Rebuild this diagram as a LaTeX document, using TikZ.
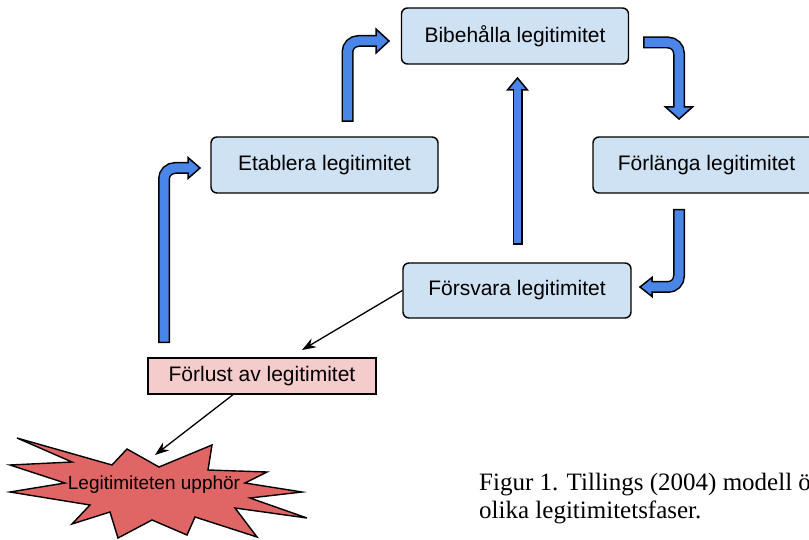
\documentclass[tikz,border=0pt]{standalone}
\usepackage{fontspec}
\setmainfont{Liberation Serif}
\newfontfamily\sansf{Liberation Sans}
\usetikzlibrary{arrows.meta,calc}
\definecolor{boxblue}{HTML}{CFE2F3}
\definecolor{lostpink}{HTML}{F4CCCC}
\definecolor{burstred}{HTML}{E06666}
\definecolor{arrowblue}{HTML}{4A86E8}
\begin{document}
\begin{tikzpicture}[x=1pt,y=-1pt,
  phase/.style={draw=black, line width=1.4pt, fill=boxblue, rounded corners=6pt,
    minimum height=56pt, minimum width=227pt, inner sep=0pt,
    font=\sansf\fontsize{21}{25}\selectfont},
  lossbox/.style={draw=black, line width=1.4pt, fill=lostpink,
    minimum height=36pt, minimum width=228pt, inner sep=0pt,
    font=\sansf\fontsize{21}{25}\selectfont},
  barout/.style={draw=black, line width=12pt, rounded corners=11pt},
  barin/.style={draw=arrowblue, line width=9pt, rounded corners=11pt},
  barouts/.style={draw=black, line width=10pt},
  barins/.style={draw=arrowblue, line width=7pt},
  barhead/.style={fill=arrowblue, draw=black, line width=1.5pt, line join=miter},
  thinarrow/.style={draw=black, line width=1.3pt, -{Stealth[length=14pt,width=10pt]}},
  captext/.style={anchor=base west, inner sep=0pt, font=\fontsize{25}{25}\selectfont}
]
\useasboundingbox (0,0) rectangle (809,540);

% boxes
\node[phase] (bib) at (515,36) {Bibehålla legitimitet};
\node[phase] (etab) at (324.5,165) {Etablera legitimitet};
\node[phase] (forl) at (706.5,165) {Förlänga legitimitet};
\node[phase, minimum height=55pt, minimum width=228pt] (forsv) at (517,290.5) {Försvara legitimitet};
\node[lossbox] (lost) at (262,376) {Förlust av legitimitet};

% starburst
\draw[fill=burstred, draw=black, line width=1.4pt, line join=miter]
  (17,438) -- (112,465) -- (127,449) -- (159,467) -- (212,445) -- (208,470)
  -- (267,472) -- (245,483) -- (302,492) -- (250,498) -- (307,518) -- (235,508)
  -- (257,537) -- (195,517) -- (187,535) -- (152,520) -- (118,538) -- (110,512)
  -- (72,524) -- (90,505) -- (10,492) -- (65,483) -- (10,465) -- (72,462) -- cycle;
\node[inner sep=0pt, font=\sansf\fontsize{19}{22}\selectfont] (burst) at (154,485) {Legitimiteten upphör};

% block arrow A: lost -> etab
\coordinate (a1) at (164,343); \coordinate (a2) at (164,168);
\coordinate (a3) at (188,168); \coordinate (a4) at (200,168);
\draw[barout] (a1) -- (a2) -- (a3);
\draw[barhead] ($(a3)+(0,-10.5)$) -- (a4) -- ($(a3)+(0,10.5)$) -- cycle;
\draw[barin] ($(a1)+(0,-1.5)$) -- (a2) -- ($(a3)+(1.6,0)$);

% block arrow B: etab -> bib
\coordinate (b1) at (347.5,122); \coordinate (b2) at (347.5,41);
\coordinate (b3) at (376,41); \coordinate (b4) at (389,41);
\draw[barout] (b1) -- (b2) -- (b3);
\draw[barhead] ($(b3)+(0,-12)$) -- (b4) -- ($(b3)+(0,12)$) -- cycle;
\draw[barin] ($(b1)+(0,-1.5)$) -- (b2) -- ($(b3)+(1.6,0)$);

% block arrow C: bib -> forl
\coordinate (c1) at (643,42.5); \coordinate (c2) at (679,42.5);
\coordinate (c3) at (679,107); \coordinate (c4) at (679,119);
\draw[barout] (c1) -- (c2) -- (c3);
\draw[barhead] ($(c3)+(-13.5,0)$) -- (c4) -- ($(c3)+(13.5,0)$) -- cycle;
\draw[barin] ($(c1)+(1.5,0)$) -- (c2) -- ($(c3)+(0,1.6)$);

% block arrow D: forl -> forsv
\coordinate (d1) at (679,209); \coordinate (d2) at (679,287);
\coordinate (d3) at (652,287); \coordinate (d4) at (640,287);
\draw[barout] (d1) -- (d2) -- (d3);
\draw[barhead] ($(d3)+(0,-9.5)$) -- (d4) -- ($(d3)+(0,9.5)$) -- cycle;
\draw[barin] ($(d1)+(0,1.5)$) -- (d2) -- ($(d3)+(-1.6,0)$);

% block arrow E: forsv -> bib
\coordinate (e1) at (517.5,245); \coordinate (e3) at (517.5,90);
\coordinate (e4) at (517.5,78);
\draw[barouts] (e1) -- (e3);
\draw[barhead] ($(e3)+(-10,0)$) -- (e4) -- ($(e3)+(10,0)$) -- cycle;
\draw[barins] ($(e1)+(0,-1.5)$) -- ($(e3)+(0,-1.6)$);

% thin arrows
\coordinate (fend) at (302,350);
\draw[thinarrow] (forsv.west) -- (fend);
\coordinate (gend) at (155,455);
\draw[thinarrow] ($(lost.south)+(-29,0)$) -- (gend);

% caption
\node[captext] (cap1) at (479,490) {Figur 1. Tillings (2004) modell över de};
\node[captext] (cap2) at (479,518) {olika legitimitetsfaser.};
\end{tikzpicture}
\end{document}
